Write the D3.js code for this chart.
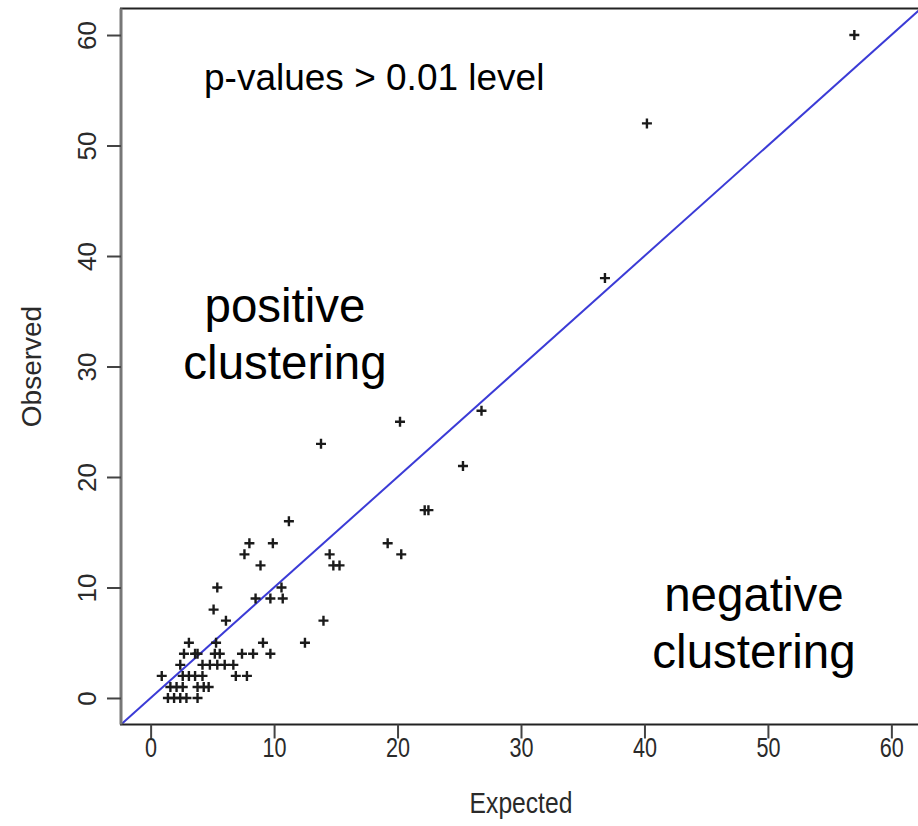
<!DOCTYPE html>
<html>
<head>
<meta charset="utf-8">
<script src="https://cdn.jsdelivr.net/npm/d3@7"></script>
<style>
  body { margin: 0; background: #fff; }
  svg { display: block; font-family: "Liberation Sans", Arial, sans-serif; }
</style>
</head>
<body>
<svg id="chart" width="918" height="826"></svg>
<script>
// Observed vs expected counts
const expected = [
    57.0, 40.2, 36.8, 26.8, 25.3, 20.2, 13.8, 22.2, 22.5, 19.2, 20.3, 11.2, 14.5, 14.8, 15.3, 14.0, 12.5,
    8.0, 9.9, 7.6, 8.9, 5.4, 10.6, 8.5, 9.7, 10.7, 5.1, 6.1, 3.1, 5.3, 9.1,
    2.7, 3.6, 3.8, 5.2, 5.6, 7.4, 8.3, 9.7,
    2.4, 4.2, 4.8, 5.4, 6.0, 6.7,
    0.9, 2.6, 3.1, 3.6, 4.2, 6.9, 7.8,
    1.6, 2.1, 2.6, 3.8, 4.3, 4.7,
    1.4, 1.9, 2.4, 2.9, 3.8
];
const observed = [
    60, 52, 38, 26, 21, 25, 23, 17, 17, 14, 13, 16, 13, 12, 12, 7, 5,
    14, 14, 13, 12, 10, 10, 9, 9, 9, 8, 7, 5, 5, 5,
    4, 4, 4, 4, 4, 4, 4, 4,
    3, 3, 3, 3, 3, 3,
    2, 2, 2, 2, 2, 2, 2,
    1, 1, 1, 1, 1, 1,
    0, 0, 0, 0, 0
];
const tickValues = [0, 10, 20, 30, 40, 50, 60];
const axisDomain = [-2.4, 62.4];

const svg = d3.select('#chart');
const plotLeft = 121, plotRight = 921, plotTop = 8.5, plotBottom = 724.5;

const x = d3.scaleLinear().domain(axisDomain).range([plotLeft, plotRight]);
const y = d3.scaleLinear().domain(axisDomain).range([plotBottom, plotTop]);

const points = expected.map((e, i) => ({ e: e, o: observed[i] }));

// y = x reference line
svg.append('line')
    .attr('x1', x(axisDomain[0])).attr('y1', y(axisDomain[0]))
    .attr('x2', x(axisDomain[1])).attr('y2', y(axisDomain[1]))
    .style('stroke', '#3b3bd6')
    .style('stroke-width', 2);

// points drawn as small "+" marks
svg.append('g')
    .selectAll('path')
    .data(points)
    .enter()
    .append('path')
    .attr('transform', d => `translate(${x(d.e)}, ${y(d.o)})`)
    .attr('d', 'M-5,0H5M0,-5V5')
    .style('stroke', '#1a1a1a')
    .style('stroke-width', 2.4)
    .style('fill', 'none');

// frame
svg.append('rect')
    .attr('x', plotLeft).attr('y', plotTop)
    .attr('width', plotRight - plotLeft).attr('height', plotBottom - plotTop)
    .style('fill', 'none')
    .style('stroke', '#222')
    .style('stroke-width', 2);
svg.append('line')
    .attr('x1', plotLeft).attr('x2', plotLeft)
    .attr('y1', plotTop).attr('y2', plotBottom)
    .style('stroke', '#777')
    .style('stroke-width', 3);

// x axis
const xAxis = svg.append('g')
    .attr('transform', `translate(0, ${plotBottom})`)
    .call(d3.axisBottom(x).tickValues(tickValues).tickSize(14).tickSizeOuter(0));
xAxis.select('.domain').remove();
xAxis.selectAll('line').style('stroke', '#444').style('stroke-width', 2);
xAxis.selectAll('text')
    .attr('y', 0).attr('dy', 0)
    .attr('transform', 'translate(0, 32) scale(0.8, 1)')
    .style('font-size', '27px')
    .style('fill', '#2a2a2a');

// y axis
const yAxis = svg.append('g')
    .attr('transform', `translate(${plotLeft}, 0)`)
    .call(d3.axisLeft(y).tickValues(tickValues).tickSize(14).tickSizeOuter(0));
yAxis.select('.domain').remove();
yAxis.selectAll('line').style('stroke', '#444').style('stroke-width', 2);
yAxis.selectAll('text')
    .attr('x', 0).attr('y', 0).attr('dy', 0)
    .attr('text-anchor', 'middle')
    .attr('transform', 'translate(-25, 0) rotate(-90)')
    .style('font-size', '26px')
    .style('fill', '#2a2a2a');

// axis titles
svg.append('text')
    .attr('text-anchor', 'middle')
    .attr('transform', `translate(${(plotLeft + plotRight) / 2}, 813) scale(0.85, 1)`)
    .style('font-size', '29px')
    .style('fill', '#2a2a2a')
    .text('Expected');

svg.append('text')
    .attr('text-anchor', 'middle')
    .attr('transform', `translate(41, ${(plotTop + plotBottom) / 2}) rotate(-90)`)
    .style('font-size', '28px')
    .style('fill', '#2a2a2a')
    .text('Observed');

// annotations
svg.append('text')
    .attr('x', 204).attr('y', 90)
    .style('font-size', '37px')
    .style('fill', '#000')
    .text('p-values > 0.01 level');

const notes = [
    { lines: ['positive', 'clustering'], cx: 285, y0: 322 },
    { lines: ['negative', 'clustering'], cx: 754, y0: 611 }
];
notes.forEach(n => {
    n.lines.forEach((t, i) => {
        svg.append('text')
            .attr('x', n.cx)
            .attr('y', n.y0 + i * 57)
            .attr('text-anchor', 'middle')
            .style('font-size', '47.5px')
            .style('fill', '#000')
            .text(t);
    });
});
</script>
</body>
</html>
